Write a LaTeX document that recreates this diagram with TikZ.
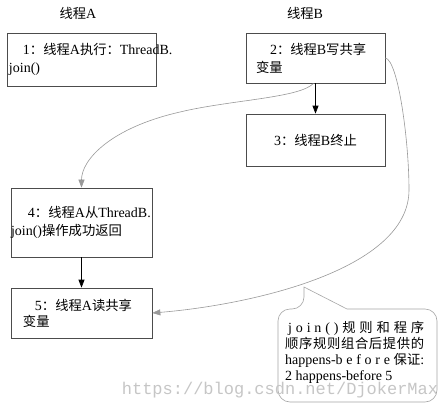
\documentclass[tikz,border=0pt]{standalone}
\usepackage{fontspec}
\setmainfont{Liberation Serif}
\newfontfamily\cjk[Scale=0.95]{Noto Sans CJK SC}
\newfontfamily\wmfont{Liberation Mono}
\usetikzlibrary{arrows.meta}
\newcommand\zh[1]{{\cjk #1}}
\tikzset{
  box/.style={draw=black!70, line width=0.7pt, align=left, inner ysep=0pt,
    font=\fontsize{14}{18}\selectfont},
  flow/.style={-{Triangle[length=8pt,width=6pt]}, line width=0.7pt, black},
  hb/.style={-{Triangle[length=8pt,width=6pt]}, color=gray!80, line width=0.6pt},
  callout/.style={draw=gray!70, line width=0.6pt, fill=white},
  lbl/.style={font=\fontsize{14}{16}\selectfont},
}
\begin{document}
\begin{tikzpicture}[x=1pt, y={(0pt,-1pt)}]
\useasboundingbox (0,0) rectangle (445,410);
\fill[white] (0,0) rectangle (445,410);

\node[lbl] (la) at (78,13) {\zh{线程}A};
\node[lbl] (lb) at (305,13) {\zh{线程}B};

\node[box, text width=145pt, inner xsep=2pt, minimum height=53pt] (b1) at (81.5,59.5)
  {\hspace*{14pt}1\zh{：线程}A\zh{执行：}ThreadB.\\join()};
\node[box, text width=119pt, inner xsep=10pt, minimum height=50pt] (b2) at (315.5,58)
  {\hspace*{14pt}2\zh{：线程}B\zh{写共享}\\\zh{变量}};
\node[box, minimum width=139pt, minimum height=52pt] (b3) at (315.5,140)
  {3\zh{：线程}B\zh{终止}};
\node[box, text width=141pt, inner xsep=0pt, minimum height=69pt] (b4) at (81.5,222.5)
  {\hspace*{17pt}4\zh{：线程}A\zh{从}ThreadB.\\join()\zh{操作成功返回}};
\node[box, text width=117pt, inner xsep=12pt, minimum height=50pt,
  font=\fontsize{14}{16}\selectfont] (b5) at (81.5,313)
  {\hspace*{12pt}5\zh{：线程}A\zh{读共享}\\\zh{变量}};

\draw[flow] (b2.south) -- (b3.north);
\draw[flow] (b4.south) -- (b5.north);

\draw[hb] ([xshift=-2pt]b2.south) .. controls (300,98) and (230,100) .. (180,112)
  .. controls (110,128) and (81.5,160) .. (b4.north);

\draw[callout] (380,309) [rounded corners=12pt] -- (437,309) -- (437,402) -- (278,402)
  -- (278,309) -- (304,309) [sharp corners] -- (304,287) -- (347,309) -- cycle;

\draw[hb] (b2.east) .. controls (398,60) and (409,140) .. (409,190)
  .. controls (409,270) and (250,305) .. (b5.east);

\node[anchor=north west, align=left, inner sep=0pt, font=\fontsize{14}{16}\selectfont] (note) at (285,321)
  {\hspace*{3pt}\makebox[136pt][s]{j\hfill o\hfill i\hfill n\hfill (\hfill )\hfill\zh{规}\hfill\zh{则}\hfill\zh{和}\hfill\zh{程}\hfill\zh{序}}\\
   \makebox[139pt][s]{\zh{顺}\hfill\zh{序}\hfill\zh{规}\hfill\zh{则}\hfill\zh{组}\hfill\zh{合}\hfill\zh{后}\hfill\zh{提}\hfill\zh{供}\hfill\zh{的}}\\
   \makebox[139pt][s]{happens-b\hfill e\hfill f\hfill o\hfill r\hfill e\hfill\zh{保证}:}\\
   2 happens-before 5};

\node[font=\wmfont\fontsize{17}{17}\selectfont, text=gray!45, inner sep=0pt] (wm) at (280,390)
  {https://blog.csdn.net/DjokerMax};
\end{tikzpicture}
\end{document}
